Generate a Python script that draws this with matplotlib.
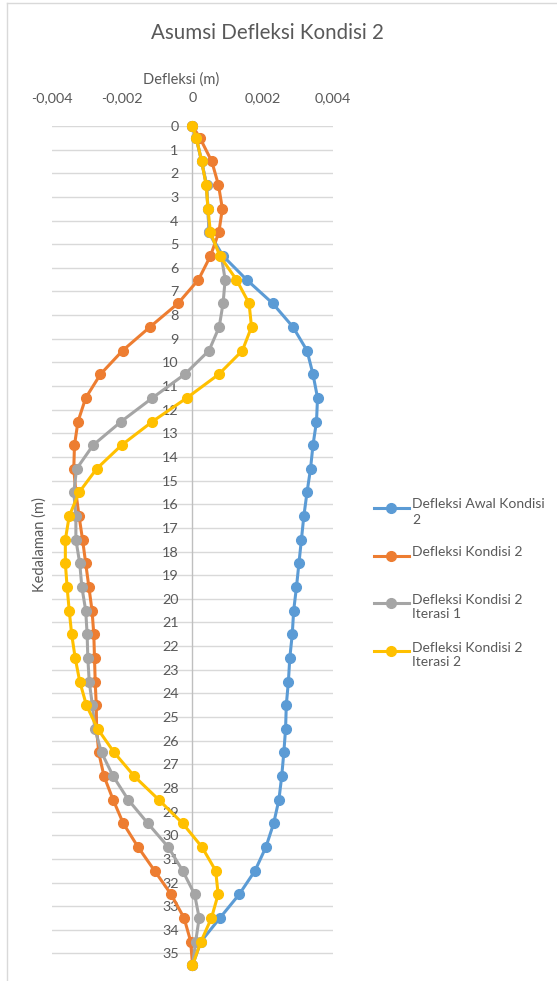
import matplotlib
matplotlib.use("Agg")
import matplotlib.pyplot as plt
from matplotlib.lines import Line2D
from matplotlib.ticker import FuncFormatter

plt.rcParams['font.family'] = ['Lato', 'DejaVu Sans']

# depth (m) of each point
kedalaman = [0, 0.5] + [i + 0.5 for i in range(1, 35)] + [35.5]

# deflection values (m)
awal = [0, 0.00011, 0.00026, 0.0004, 0.00044, 0.00047, 0.00087, 0.00154, 0.00228,
        0.00286, 0.00326, 0.00343, 0.00356, 0.00353, 0.00343, 0.00336, 0.00326,
        0.00317, 0.0031, 0.00303, 0.00296, 0.00288, 0.00284, 0.00277, 0.00273,
        0.00267, 0.00265, 0.0026, 0.00254, 0.00246, 0.00231, 0.00209, 0.00178,
        0.00133, 0.00078, 0.00024, 0]
kondisi2 = [0, 0.00021, 0.00055, 0.00074, 0.00085, 0.00075, 0.00051, 0.00017, -0.00041,
            -0.00121, -0.00199, -0.00262, -0.00304, -0.00326, -0.00336, -0.00338,
            -0.00332, -0.00323, -0.00313, -0.00304, -0.00295, -0.00286, -0.00281,
            -0.00279, -0.00277, -0.00274, -0.00273, -0.00267, -0.00252, -0.00226,
            -0.00197, -0.00155, -0.00108, -0.00061, -0.00024, -0.00005, 0]
iterasi1 = [0, 0.0001, 0.00026, 0.0004, 0.00044, 0.00047, 0.00082, 0.00093, 0.00087,
            0.00076, 0.00047, -0.00022, -0.00114, -0.00203, -0.00283, -0.0033,
            -0.00338, -0.00332, -0.00332, -0.00321, -0.00315, -0.00304, -0.003,
            -0.00298, -0.00294, -0.00285, -0.00278, -0.00259, -0.00226, -0.00183,
            -0.00127, -0.00069, -0.00028, 0.00006, 0.00019, 0.00009, 0]
iterasi2 = [0, 0.00011, 0.00026, 0.00039, 0.00044, 0.00051, 0.00078, 0.00125, 0.00161,
            0.00168, 0.00142, 0.00075, -0.00016, -0.00114, -0.00202, -0.00273,
            -0.00323, -0.00351, -0.00362, -0.00362, -0.00357, -0.00351, -0.00344,
            -0.00334, -0.00321, -0.00302, -0.0027, -0.00223, -0.00166, -0.00096,
            -0.00028, 0.00027, 0.00066, 0.00073, 0.00054, 0.00024, 0]

series = [awal, kondisi2, iterasi1, iterasi2]
labels = ["Defleksi Awal Kondisi\n2", "Defleksi Kondisi 2",
          "Defleksi Kondisi 2\nIterasi 1", "Defleksi Kondisi 2\nIterasi 2"]
colors = ["#5B9BD5", "#ED7D31", "#A5A5A5", "#FFC000"]
xticks = [-0.004, -0.002, 0, 0.002, 0.004]

W, H = 557, 981
fig = plt.figure(figsize=(W / 100, H / 100), dpi=100)
ax = fig.add_axes([52 / W, 1 - 970 / H, (333 - 52) / W, (970 - 126) / H])

for vals, c in zip(series, colors):
    ax.plot(vals, kedalaman, color=c, lw=2.2, marker='o', ms=7, zorder=3,
            clip_on=False)

ax.set_xlim(-0.004, 0.004)
ax.set_ylim(35.7, 0)
ax.set_xticks(xticks)
ax.xaxis.set_major_formatter(FuncFormatter(
    lambda v, p: "0" if abs(v) < 1e-12 else f"{v:.3f}".replace(".", ",")))
ax.xaxis.tick_top()
ax.set_yticks(range(0, 36))
ax.tick_params(axis='both', length=0, labelsize=10.4, labelcolor="#595959")
ax.tick_params(axis='x', pad=16)
ax.tick_params(axis='y', pad=10)

for s in ['top', 'right', 'bottom']:
    ax.spines[s].set_visible(False)
ax.spines['left'].set_position(('data', 0))
ax.spines['left'].set_color("#bfbfbf")
ax.spines['left'].set_linewidth(1)

for y in range(0, 36):
    ax.axhline(y, color="#d9d9d9", lw=1, zorder=1)

fig.text(181 / W, 1 - 80 / H, "Defleksi (m)", ha='center', va='center',
         fontsize=10.5, color="#595959")
fig.text(40 / W, 1 - 545 / H, "Kedalaman (m)", ha='center', va='center',
         rotation=90, fontsize=10.5, color="#595959")
fig.text(267 / W, 1 - 33 / H, "Asumsi Defleksi Kondisi 2", ha='center',
         va='center', fontsize=14.8, color="#595959")

# legend, drawn by hand so the marker sits on the first text line
leg_y = [508, 556, 603, 651]
for lab, c, yy in zip(labels, colors, leg_y):
    fy = 1 - yy / H
    fig.add_artist(Line2D([374 / W, 409 / W], [fy, fy], color=c, lw=2.2,
                          transform=fig.transFigure))
    fig.add_artist(Line2D([391 / W], [fy], color=c, marker='o', ms=7,
                          transform=fig.transFigure))
    fig.text(412 / W, fy + 9.5 / H, lab, ha='left', va='top', fontsize=10,
             color="#595959", linespacing=1.3)

# chart border
fig.add_artist(Line2D([7 / W, 7 / W], [0, 1 - 3 / H], color="#d9d9d9", lw=1,
                      transform=fig.transFigure))
fig.add_artist(Line2D([7 / W, 1], [1 - 3 / H, 1 - 3 / H], color="#d9d9d9", lw=1,
                      transform=fig.transFigure))

fig.savefig("out.png", dpi=100)
